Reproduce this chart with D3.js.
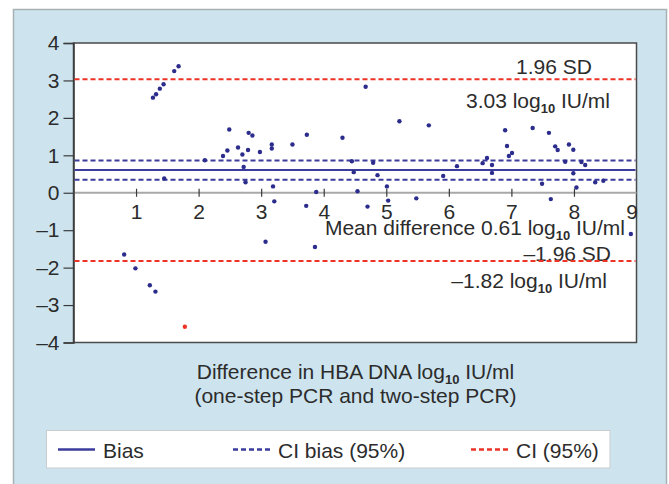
<!DOCTYPE html>
<html>
<head>
<meta charset="utf-8">
<script src="https://cdn.jsdelivr.net/npm/d3@7"></script>
<style>
  body { margin: 0; background: #fff; }
  text { font-family: "Liberation Sans", Arial, sans-serif; fill: #2c2c2c; }
</style>
</head>
<body>
<script>
// Bland-Altman style plot: differences vs means
var diffX = [0.81, 0.99, 1.22, 1.31, 1.27, 1.32, 1.38, 1.44, 1.61, 1.68, 1.45, 2.10, 2.39, 2.46,
  2.49, 2.63, 2.70, 2.72, 2.75, 2.79, 2.80, 2.86, 2.98, 3.07, 3.17, 3.17, 3.19, 3.21, 3.50,
  3.72, 3.73, 3.86, 3.88, 4.30, 4.45, 4.48, 4.54, 4.67, 4.70, 4.79, 4.86, 5.01, 5.03, 5.21,
  5.48, 5.68, 5.91, 6.13, 6.54, 6.61, 6.69, 6.69, 6.90, 6.93, 6.96, 7.01, 7.34, 7.49, 7.60,
  7.63, 7.70, 7.74, 7.86, 7.92, 7.99, 7.99, 8.04, 8.12, 8.18, 8.34, 8.47, 8.91];
var diffY = [-1.65, -2.02, -2.47, -2.64, 2.54, 2.63, 2.78, 2.90, 3.25, 3.38, 0.38, 0.87, 0.98, 1.13,
  1.69, 1.21, 1.02, 0.69, 0.28, 1.14, 1.60, 1.53, 1.09, -1.31, 1.29, 1.18, 0.17, -0.23, 1.29,
  -0.35, 1.55, -1.45, 0.02, 1.47, 0.84, 0.55, 0.04, 2.83, -0.37, 0.80, 0.47, 0.17, -0.21, 1.91,
  -0.15, 1.80, 0.45, 0.71, 0.79, 0.93, 0.74, 0.53, 1.67, 1.25, 0.98, 1.06, 1.73, 0.24, 1.60,
  -0.17, 1.24, 1.14, 0.83, 1.29, 1.15, 0.52, 0.14, 0.82, 0.74, 0.28, 0.32, -1.10];
var outlierX = [1.78];
var outlierY = [-3.58];

var bias = 0.61;
var ciBias = [0.35, 0.86];
var limits = [3.03, -1.82];

var xTicks = [1, 2, 3, 4, 5, 6, 7, 8, 9];
var yTicks = [-4, -3, -2, -1, 0, 1, 2, 3, 4];

var NAVY = "#2b2c8c", BLUE = "#3b3c9c", RED = "#ec3326";
var FS = "21px";

var svg = d3.select("body").append("svg")
  .attr("width", 669)
  .attr("height", 484);

// outer panel
svg.append("rect")
  .attr("x", 13.5).attr("y", 9.5)
  .attr("width", 653).attr("height", 490)
  .attr("fill", "#cde4ef")
  .attr("stroke", "#a9b0b4")
  .attr("stroke-width", 1.5);

var x = d3.scaleLinear().domain([0, 9]).range([73.5, 636.5]);
var y = d3.scaleLinear().domain([-4, 4]).range([342.5, 43]);

// plot area
svg.append("rect")
  .attr("x", x(0)).attr("y", y(4))
  .attr("width", x(9) - x(0)).attr("height", y(-4) - y(4))
  .attr("fill", "#fff")
  .attr("stroke", "#4a4a4a")
  .attr("stroke-width", 1.5);

// zero line
svg.append("line")
  .attr("x1", x(0)).attr("x2", x(9))
  .attr("y1", y(0)).attr("y2", y(0))
  .attr("stroke", "#a8a8a8")
  .attr("stroke-width", 2);

// y axis
var yAxis = svg.append("g")
  .attr("transform", "translate(" + x(0) + ",0)")
  .call(d3.axisLeft(y).tickValues(yTicks).tickSize(10).tickPadding(4)
    .tickFormat(function (d) { return d < 0 ? "\u2013" + Math.abs(d) : d; }));
yAxis.select(".domain").attr("stroke", "#3a3a3a").attr("stroke-width", 1.5);
yAxis.selectAll(".tick line").attr("stroke", "#3a3a3a").attr("stroke-width", 1.2);
yAxis.selectAll("text").style("font-size", FS).attr("fill", "#2c2c2c");

// x axis sits on the zero line
var xAxis = svg.append("g")
  .attr("transform", "translate(0," + y(0) + ")")
  .call(d3.axisBottom(x).tickValues(xTicks).tickSize(4));
xAxis.select(".domain").remove();
xAxis.selectAll(".tick line")
  .attr("y1", -4).attr("y2", 4)
  .attr("stroke", "#3a3a3a").attr("stroke-width", 1.2)
  .filter(function (d) { return d === 9; }).remove();
xAxis.selectAll("text")
  .attr("y", 26).attr("dy", null)
  .attr("dx", function (d) { return d === 9 ? -5 : 0; })
  .style("font-size", FS).attr("fill", "#2c2c2c");

// reference lines
function hline(v, color, dash) {
  svg.append("line")
    .attr("x1", x(0) + 1).attr("x2", x(9) - 1)
    .attr("y1", y(v)).attr("y2", y(v))
    .attr("stroke", color)
    .attr("stroke-width", 2)
    .attr("stroke-dasharray", dash);
}
hline(bias, BLUE, null);
ciBias.forEach(function (v) { hline(v, BLUE, "5,3"); });

// points
svg.selectAll(".pt")
  .data(d3.zip(diffX, diffY))
  .enter().append("circle")
  .attr("class", "pt")
  .attr("cx", function (d) { return x(d[0]); })
  .attr("cy", function (d) { return y(d[1]); })
  .attr("r", 2.2)
  .attr("fill", NAVY);

svg.selectAll(".out")
  .data(d3.zip(outlierX, outlierY))
  .enter().append("circle")
  .attr("class", "out")
  .attr("cx", function (d) { return x(d[0]); })
  .attr("cy", function (d) { return y(d[1]); })
  .attr("r", 2.2)
  .attr("fill", RED);

// text with log10 subscript
function subText(px, py, anchor, before, after) {
  var t = svg.append("text")
    .attr("x", px).attr("y", py)
    .attr("text-anchor", anchor)
    .style("font-size", FS);
  t.append("tspan").text(before);
  t.append("tspan").attr("dy", 5).style("font-size", "13px").style("font-weight", "bold").text("10");
  t.append("tspan").attr("dy", -5).text(after);
  return t;
}
function plainText(px, py, anchor, s) {
  return svg.append("text")
    .attr("x", px).attr("y", py)
    .attr("text-anchor", anchor)
    .style("font-size", FS)
    .text(s);
}

plainText(592, 74, "end", "1.96 SD");
subText(610, 108, "end", "3.03 log", " IU/ml");
subText(625, 235, "end", "Mean difference 0.61 log", " IU/ml");
plainText(611, 261, "end", "\u20131.96 SD");
subText(607, 288, "end", "\u20131.82 log", " IU/ml");

// limit lines drawn over the labels
hline(limits[0], RED, "5,3");
hline(limits[1], RED, "5,3");

// axis title
subText(355.5, 379, "middle", "Difference in HBA DNA log", " IU/ml");
plainText(355.5, 403, "middle", "(one-step PCR and two-step PCR)");

// legend
var legendItems = [
  { label: "Bias", color: BLUE, dash: null, x: 58 },
  { label: "CI bias (95%)", color: BLUE, dash: "5,3", x: 233 },
  { label: "CI (95%)", color: RED, dash: "5,3", x: 471 }
];
svg.append("rect")
  .attr("x", 46.5).attr("y", 430.5)
  .attr("width", 563.5).attr("height", 37.5)
  .attr("fill", "#fff")
  .attr("stroke", "#c9cdd0");

var leg = svg.selectAll(".leg")
  .data(legendItems)
  .enter().append("g")
  .attr("class", "leg")
  .attr("transform", function (d) { return "translate(" + d.x + ",449.5)"; });
leg.append("line")
  .attr("x1", 0).attr("x2", 37)
  .attr("stroke", function (d) { return d.color; })
  .attr("stroke-width", 2.5)
  .attr("stroke-dasharray", function (d) { return d.dash; });
leg.append("text")
  .attr("x", 45).attr("y", 8)
  .style("font-size", FS)
  .text(function (d) { return d.label; });
</script>
</body>
</html>
